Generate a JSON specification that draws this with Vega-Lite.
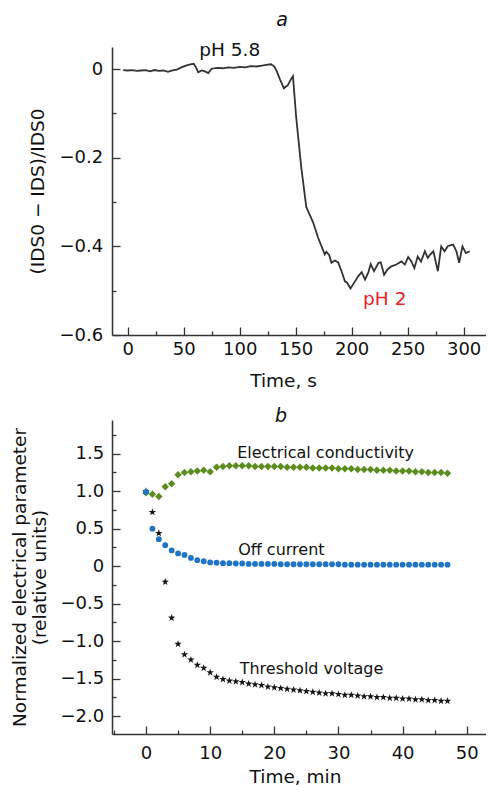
{
  "$schema": "https://vega.github.io/schema/vega-lite/v6.json",
  "padding": {"left": 10, "top": 11, "right": 0, "bottom": 0},
  "background": "white",
  "spacing": 17,
  "resolve": {"scale": {"color": "independent"}},
  "config": {
    "view": {"stroke": null},
    "font": "DejaVu Sans",
    "axis": {
      "grid": false,
      "domainColor": "#333",
      "domainWidth": 1.5,
      "tickColor": "#333",
      "tickWidth": 1.3,
      "labelFont": "DejaVu Sans",
      "labelFontSize": 18,
      "labelColor": "#111",
      "titleFont": "DejaVu Sans",
      "titleFontSize": 18.5,
      "titleFontWeight": "normal",
      "titleColor": "#111"
    },
    "title": {"font": "DejaVu Sans", "fontSize": 19, "fontStyle": "italic", "fontWeight": "normal", "color": "#111", "frame": "group"}
  },
  "datasets": {
    "trace": [
      {"t": -4, "v": -0.002}, {"t": 0, "v": -0.003}, {"t": 4, "v": -0.002}, {"t": 8, "v": -0.004},
      {"t": 12, "v": -0.003}, {"t": 16, "v": -0.002}, {"t": 20, "v": -0.005}, {"t": 24, "v": -0.002},
      {"t": 28, "v": -0.004}, {"t": 32, "v": -0.003}, {"t": 36, "v": -0.006}, {"t": 40, "v": -0.003},
      {"t": 44, "v": -0.001}, {"t": 48, "v": 0.004}, {"t": 52, "v": 0.008}, {"t": 56, "v": 0.011},
      {"t": 59, "v": 0.012}, {"t": 61, "v": 0.004}, {"t": 63, "v": -0.007}, {"t": 66, "v": -0.003},
      {"t": 69, "v": -0.005}, {"t": 72, "v": -0.009}, {"t": 75, "v": 0.001}, {"t": 80, "v": 0.003},
      {"t": 85, "v": 0.002}, {"t": 90, "v": 0.004}, {"t": 95, "v": 0.003}, {"t": 100, "v": 0.005},
      {"t": 105, "v": 0.004}, {"t": 110, "v": 0.007}, {"t": 115, "v": 0.006}, {"t": 120, "v": 0.008},
      {"t": 125, "v": 0.010}, {"t": 128, "v": 0.011}, {"t": 131, "v": 0.006}, {"t": 133, "v": -0.004},
      {"t": 136, "v": -0.023}, {"t": 139.5, "v": -0.043}, {"t": 143, "v": -0.036}, {"t": 146, "v": -0.022},
      {"t": 147.6, "v": -0.016}, {"t": 150.5, "v": -0.109}, {"t": 155, "v": -0.221}, {"t": 159.5, "v": -0.311},
      {"t": 161, "v": -0.320}, {"t": 165.5, "v": -0.345}, {"t": 170, "v": -0.380}, {"t": 174.4, "v": -0.408},
      {"t": 176, "v": -0.418}, {"t": 177.4, "v": -0.412}, {"t": 180, "v": -0.420}, {"t": 182, "v": -0.437},
      {"t": 185, "v": -0.432}, {"t": 188, "v": -0.436}, {"t": 191, "v": -0.456}, {"t": 194, "v": -0.479},
      {"t": 196, "v": -0.482}, {"t": 199, "v": -0.495}, {"t": 203, "v": -0.479}, {"t": 206, "v": -0.467},
      {"t": 209, "v": -0.458}, {"t": 212, "v": -0.475}, {"t": 215, "v": -0.458}, {"t": 217, "v": -0.440},
      {"t": 220, "v": -0.456}, {"t": 224, "v": -0.437}, {"t": 226, "v": -0.436}, {"t": 229, "v": -0.464},
      {"t": 232, "v": -0.452}, {"t": 235.5, "v": -0.445}, {"t": 240, "v": -0.441}, {"t": 244.5, "v": -0.434},
      {"t": 247.5, "v": -0.441}, {"t": 250.5, "v": -0.424}, {"t": 253.4, "v": -0.434}, {"t": 256, "v": -0.449},
      {"t": 259, "v": -0.423}, {"t": 262, "v": -0.434}, {"t": 265.4, "v": -0.411}, {"t": 268, "v": -0.426},
      {"t": 270, "v": -0.419}, {"t": 273, "v": -0.411}, {"t": 277, "v": -0.456}, {"t": 280, "v": -0.400},
      {"t": 283, "v": -0.411}, {"t": 286, "v": -0.399}, {"t": 290.7, "v": -0.396}, {"t": 293.6, "v": -0.411},
      {"t": 296, "v": -0.437}, {"t": 299, "v": -0.400}, {"t": 302, "v": -0.415}, {"t": 305.5, "v": -0.411}
    ],
    "labelsA": [
      {"t": 91.2, "v": 0.029, "label": "pH 5.8"},
      {"t": 229.6, "v": -0.533, "label": "pH 2"}
    ],
    "norm": [
      {"t": 0, "v": 1.0, "s": "Threshold voltage"}, {"t": 1, "v": 0.72, "s": "Threshold voltage"},
      {"t": 2, "v": 0.44, "s": "Threshold voltage"}, {"t": 3, "v": -0.21, "s": "Threshold voltage"},
      {"t": 4, "v": -0.69, "s": "Threshold voltage"}, {"t": 5, "v": -1.04, "s": "Threshold voltage"},
      {"t": 6, "v": -1.18, "s": "Threshold voltage"}, {"t": 7, "v": -1.25, "s": "Threshold voltage"},
      {"t": 8, "v": -1.32, "s": "Threshold voltage"}, {"t": 9, "v": -1.36, "s": "Threshold voltage"},
      {"t": 10, "v": -1.42, "s": "Threshold voltage"}, {"t": 11, "v": -1.48, "s": "Threshold voltage"},
      {"t": 12, "v": -1.51, "s": "Threshold voltage"}, {"t": 13, "v": -1.53, "s": "Threshold voltage"},
      {"t": 14, "v": -1.54, "s": "Threshold voltage"}, {"t": 15, "v": -1.55, "s": "Threshold voltage"},
      {"t": 16, "v": -1.57, "s": "Threshold voltage"}, {"t": 17, "v": -1.58, "s": "Threshold voltage"},
      {"t": 18, "v": -1.59, "s": "Threshold voltage"}, {"t": 19, "v": -1.61, "s": "Threshold voltage"},
      {"t": 20, "v": -1.62, "s": "Threshold voltage"}, {"t": 21, "v": -1.63, "s": "Threshold voltage"},
      {"t": 22, "v": -1.64, "s": "Threshold voltage"}, {"t": 23, "v": -1.65, "s": "Threshold voltage"},
      {"t": 24, "v": -1.66, "s": "Threshold voltage"}, {"t": 25, "v": -1.67, "s": "Threshold voltage"},
      {"t": 26, "v": -1.68, "s": "Threshold voltage"}, {"t": 27, "v": -1.69, "s": "Threshold voltage"},
      {"t": 28, "v": -1.70, "s": "Threshold voltage"}, {"t": 29, "v": -1.70, "s": "Threshold voltage"},
      {"t": 30, "v": -1.71, "s": "Threshold voltage"}, {"t": 31, "v": -1.72, "s": "Threshold voltage"},
      {"t": 32, "v": -1.72, "s": "Threshold voltage"}, {"t": 33, "v": -1.73, "s": "Threshold voltage"},
      {"t": 34, "v": -1.74, "s": "Threshold voltage"}, {"t": 35, "v": -1.74, "s": "Threshold voltage"},
      {"t": 36, "v": -1.75, "s": "Threshold voltage"}, {"t": 37, "v": -1.75, "s": "Threshold voltage"},
      {"t": 38, "v": -1.76, "s": "Threshold voltage"}, {"t": 39, "v": -1.76, "s": "Threshold voltage"},
      {"t": 40, "v": -1.77, "s": "Threshold voltage"}, {"t": 41, "v": -1.77, "s": "Threshold voltage"},
      {"t": 42, "v": -1.78, "s": "Threshold voltage"}, {"t": 43, "v": -1.78, "s": "Threshold voltage"},
      {"t": 44, "v": -1.79, "s": "Threshold voltage"}, {"t": 45, "v": -1.79, "s": "Threshold voltage"},
      {"t": 46, "v": -1.80, "s": "Threshold voltage"}, {"t": 47, "v": -1.80, "s": "Threshold voltage"},
      {"t": 0, "v": 0.98, "s": "Electrical conductivity"}, {"t": 1, "v": 0.96, "s": "Electrical conductivity"},
      {"t": 2, "v": 0.93, "s": "Electrical conductivity"}, {"t": 3, "v": 1.06, "s": "Electrical conductivity"},
      {"t": 4, "v": 1.10, "s": "Electrical conductivity"}, {"t": 5, "v": 1.22, "s": "Electrical conductivity"},
      {"t": 6, "v": 1.25, "s": "Electrical conductivity"}, {"t": 7, "v": 1.26, "s": "Electrical conductivity"},
      {"t": 8, "v": 1.27, "s": "Electrical conductivity"}, {"t": 9, "v": 1.28, "s": "Electrical conductivity"},
      {"t": 10, "v": 1.26, "s": "Electrical conductivity"}, {"t": 11, "v": 1.32, "s": "Electrical conductivity"},
      {"t": 12, "v": 1.33, "s": "Electrical conductivity"}, {"t": 13, "v": 1.34, "s": "Electrical conductivity"},
      {"t": 14, "v": 1.34, "s": "Electrical conductivity"}, {"t": 15, "v": 1.34, "s": "Electrical conductivity"},
      {"t": 16, "v": 1.34, "s": "Electrical conductivity"}, {"t": 17, "v": 1.33, "s": "Electrical conductivity"},
      {"t": 18, "v": 1.33, "s": "Electrical conductivity"}, {"t": 19, "v": 1.33, "s": "Electrical conductivity"},
      {"t": 20, "v": 1.33, "s": "Electrical conductivity"}, {"t": 21, "v": 1.33, "s": "Electrical conductivity"},
      {"t": 22, "v": 1.32, "s": "Electrical conductivity"}, {"t": 23, "v": 1.32, "s": "Electrical conductivity"},
      {"t": 24, "v": 1.32, "s": "Electrical conductivity"}, {"t": 25, "v": 1.32, "s": "Electrical conductivity"},
      {"t": 26, "v": 1.31, "s": "Electrical conductivity"}, {"t": 27, "v": 1.31, "s": "Electrical conductivity"},
      {"t": 28, "v": 1.31, "s": "Electrical conductivity"}, {"t": 29, "v": 1.31, "s": "Electrical conductivity"},
      {"t": 30, "v": 1.30, "s": "Electrical conductivity"}, {"t": 31, "v": 1.30, "s": "Electrical conductivity"},
      {"t": 32, "v": 1.30, "s": "Electrical conductivity"}, {"t": 33, "v": 1.29, "s": "Electrical conductivity"},
      {"t": 34, "v": 1.29, "s": "Electrical conductivity"}, {"t": 35, "v": 1.29, "s": "Electrical conductivity"},
      {"t": 36, "v": 1.28, "s": "Electrical conductivity"}, {"t": 37, "v": 1.28, "s": "Electrical conductivity"},
      {"t": 38, "v": 1.28, "s": "Electrical conductivity"}, {"t": 39, "v": 1.27, "s": "Electrical conductivity"},
      {"t": 40, "v": 1.27, "s": "Electrical conductivity"}, {"t": 41, "v": 1.27, "s": "Electrical conductivity"},
      {"t": 42, "v": 1.26, "s": "Electrical conductivity"}, {"t": 43, "v": 1.26, "s": "Electrical conductivity"},
      {"t": 44, "v": 1.25, "s": "Electrical conductivity"}, {"t": 45, "v": 1.25, "s": "Electrical conductivity"},
      {"t": 46, "v": 1.25, "s": "Electrical conductivity"}, {"t": 47, "v": 1.24, "s": "Electrical conductivity"},
      {"t": 0, "v": 0.99, "s": "Off current"}, {"t": 1, "v": 0.50, "s": "Off current"},
      {"t": 2, "v": 0.36, "s": "Off current"}, {"t": 3, "v": 0.28, "s": "Off current"},
      {"t": 4, "v": 0.21, "s": "Off current"}, {"t": 5, "v": 0.17, "s": "Off current"},
      {"t": 6, "v": 0.15, "s": "Off current"}, {"t": 7, "v": 0.11, "s": "Off current"},
      {"t": 8, "v": 0.08, "s": "Off current"}, {"t": 9, "v": 0.065, "s": "Off current"},
      {"t": 10, "v": 0.05, "s": "Off current"}, {"t": 11, "v": 0.045, "s": "Off current"},
      {"t": 12, "v": 0.04, "s": "Off current"}, {"t": 13, "v": 0.04, "s": "Off current"},
      {"t": 14, "v": 0.035, "s": "Off current"}, {"t": 15, "v": 0.035, "s": "Off current"},
      {"t": 16, "v": 0.03, "s": "Off current"}, {"t": 17, "v": 0.03, "s": "Off current"},
      {"t": 18, "v": 0.03, "s": "Off current"}, {"t": 19, "v": 0.03, "s": "Off current"},
      {"t": 20, "v": 0.03, "s": "Off current"}, {"t": 21, "v": 0.025, "s": "Off current"},
      {"t": 22, "v": 0.025, "s": "Off current"}, {"t": 23, "v": 0.025, "s": "Off current"},
      {"t": 24, "v": 0.025, "s": "Off current"}, {"t": 25, "v": 0.025, "s": "Off current"},
      {"t": 26, "v": 0.025, "s": "Off current"}, {"t": 27, "v": 0.025, "s": "Off current"},
      {"t": 28, "v": 0.025, "s": "Off current"}, {"t": 29, "v": 0.025, "s": "Off current"},
      {"t": 30, "v": 0.025, "s": "Off current"}, {"t": 31, "v": 0.02, "s": "Off current"},
      {"t": 32, "v": 0.02, "s": "Off current"}, {"t": 33, "v": 0.02, "s": "Off current"},
      {"t": 34, "v": 0.02, "s": "Off current"}, {"t": 35, "v": 0.02, "s": "Off current"},
      {"t": 36, "v": 0.02, "s": "Off current"}, {"t": 37, "v": 0.02, "s": "Off current"},
      {"t": 38, "v": 0.02, "s": "Off current"}, {"t": 39, "v": 0.02, "s": "Off current"},
      {"t": 40, "v": 0.02, "s": "Off current"}, {"t": 41, "v": 0.02, "s": "Off current"},
      {"t": 42, "v": 0.02, "s": "Off current"}, {"t": 43, "v": 0.02, "s": "Off current"},
      {"t": 44, "v": 0.02, "s": "Off current"}, {"t": 45, "v": 0.02, "s": "Off current"},
      {"t": 46, "v": 0.02, "s": "Off current"}, {"t": 47, "v": 0.02, "s": "Off current"}
    ],
    "labelsB": [
      {"t": 28.0, "v": 1.449, "label": "Electrical conductivity"},
      {"t": 21.1, "v": 0.151, "label": "Off current"},
      {"t": 25.8, "v": -1.44, "label": "Threshold voltage"}
    ]
  },
  "vconcat": [
    {
      "width": 374,
      "height": 288,
      "title": {"text": "a", "dx": -17, "offset": 11},
      "encoding": {
        "x": {
          "field": "t", "type": "quantitative",
          "scale": {"domain": [-14, 320], "nice": false, "zero": false},
          "axis": {
            "title": "Time, s",
            "titleX": 171,
            "values": [0, 25, 50, 75, 100, 125, 150, 175, 200, 225, 250, 275, 300],
            "labelExpr": "datum.value % 50 === 0 ? datum.label : ''",
            "tickSize": {"condition": {"test": "datum.value % 50 === 0", "value": -8}, "value": -4},
            "labelPadding": 13.5,
            "titlePadding": 12.5
          }
        },
        "y": {
          "field": "v", "type": "quantitative",
          "scale": {"domain": [-0.6, 0.05], "nice": false, "zero": false},
          "axis": {
            "title": "(IDS0 − IDS)/IDS0",
            "values": [-0.6, -0.5, -0.4, -0.3, -0.2, -0.1, 0],
            "labelExpr": "abs(round(datum.value * 10)) % 2 === 0 ? (datum.value === 0 ? '0' : replace(format(datum.value, '.1f'), '-', '−')) : ''",
            "tickSize": {"condition": {"test": "abs(round(datum.value * 10)) % 2 === 0", "value": -8}, "value": -4},
            "labelPadding": 17.4,
            "titlePadding": 11.5
          }
        }
      },
      "layer": [
        {
          "data": {"name": "trace"},
          "mark": {"type": "line", "color": "#333", "strokeWidth": 1.8, "interpolate": "linear"}
        },
        {
          "data": {"name": "labelsA"},
          "mark": {"type": "text", "fontSize": 18.5, "font": "DejaVu Sans", "baseline": "alphabetic"},
          "encoding": {
            "text": {"field": "label"},
            "color": {"field": "label", "type": "nominal", "scale": {"domain": ["pH 5.8", "pH 2"], "range": ["#111111", "#e8202a"]}, "legend": null}
          }
        }
      ]
    },
    {
      "width": 374,
      "height": 314,
      "title": {"text": "b", "dx": -18, "offset": -6},
      "encoding": {
        "x": {
          "field": "t", "type": "quantitative",
          "scale": {"domain": [-5.3, 53], "nice": false, "zero": false},
          "axis": {
            "title": "Time, min",
            "titleX": 183,
            "values": [-5, 0, 5, 10, 15, 20, 25, 30, 35, 40, 45, 50],
            "labelExpr": "datum.value % 10 === 0 ? datum.label : ''",
            "tickSize": {"condition": {"test": "datum.value % 10 === 0", "value": -8}, "value": -4},
            "labelPadding": 18.5,
            "titlePadding": 5
          }
        },
        "y": {
          "field": "v", "type": "quantitative",
          "scale": {"domain": [-2.24, 1.95], "nice": false, "zero": false},
          "axis": {
            "title": ["Normalized electrical parameter", "(relative units)"],
            "titleLineHeight": 20,
            "values": [-2, -1.75, -1.5, -1.25, -1, -0.75, -0.5, -0.25, 0, 0.25, 0.5, 0.75, 1, 1.25, 1.5, 1.75],
            "labelExpr": "round(datum.value * 4) % 2 === 0 ? (datum.value === 0 ? '0' : replace(format(datum.value, '.1f'), '-', '−')) : ''",
            "tickSize": {"condition": {"test": "round(datum.value * 4) % 2 === 0", "value": -8}, "value": -4},
            "labelPadding": 16.4,
            "titlePadding": 10.5
          }
        }
      },
      "layer": [
        {
          "data": {"name": "norm"},
          "transform": [{"filter": "datum.s === 'Threshold voltage'"}],
          "mark": {"type": "point", "filled": true, "opacity": 1, "strokeWidth": 0, "color": "#151515", "size": 60,
                   "shape": "M0,-1L0.235,-0.324L0.951,-0.309L0.38,0.124L0.588,0.809L0,0.4L-0.588,0.809L-0.38,0.124L-0.951,-0.309L-0.235,-0.324Z"}
        },
        {
          "data": {"name": "norm"},
          "transform": [{"filter": "datum.s === 'Electrical conductivity'"}],
          "mark": {"type": "point", "filled": true, "opacity": 1, "strokeWidth": 0, "color": "#5b8c1e", "size": 55, "shape": "diamond"}
        },
        {
          "data": {"name": "norm"},
          "transform": [{"filter": "datum.s === 'Off current'"}],
          "mark": {"type": "point", "filled": true, "opacity": 1, "strokeWidth": 0, "color": "#1f74c4", "size": 34, "shape": "circle"}
        },
        {
          "data": {"name": "labelsB"},
          "mark": {"type": "text", "fontSize": 16, "font": "DejaVu Sans", "color": "#111", "baseline": "alphabetic"},
          "encoding": {"text": {"field": "label"}}
        }
      ]
    }
  ]
}
